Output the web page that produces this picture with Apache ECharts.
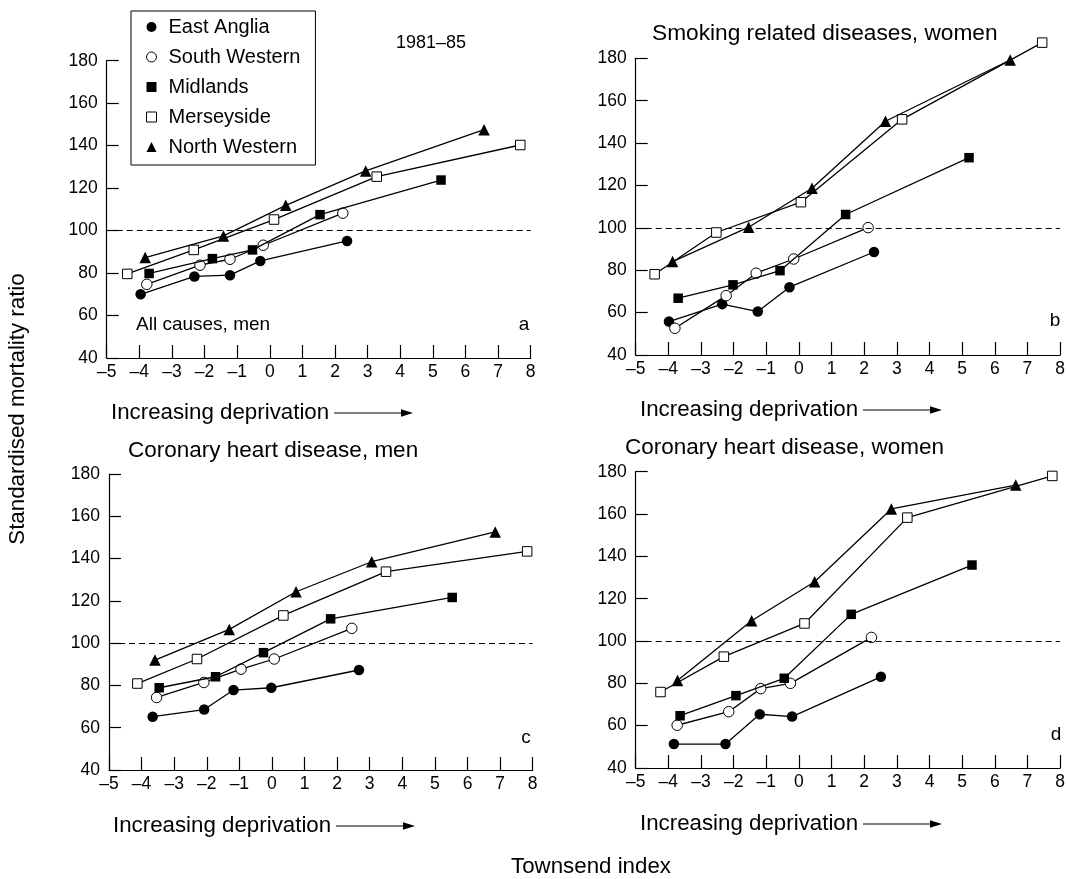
<!DOCTYPE html>
<html>
<head>
<meta charset="utf-8">
<script src="https://cdn.jsdelivr.net/npm/echarts@6/dist/echarts.min.js"></script>
<style>
html,body{margin:0;padding:0;background:#fff;}
#chart{width:1068px;height:879px;}
</style>
</head>
<body>
<div id="chart"></div>
<script>
// ---------- DATA (Townsend index, SMR) ----------
const regions = ['East Anglia', 'South Western', 'Midlands', 'Merseyside', 'North Western'];
const xTicks = [-5, -4, -3, -2, -1, 0, 1, 2, 3, 4, 5, 6, 7, 8];
const yTicks = [40, 60, 80, 100, 120, 140, 160, 180];
const referenceSMR = 100;

// Panel a: All causes, men
const a_eastAnglia   = [[-3.96, 70.0], [-2.31, 78.4], [-1.22, 79.0], [-0.29, 85.7], [2.37, 95.1]];
const a_southWestern = [[-3.77, 74.7], [-2.14, 83.7], [-1.22, 86.5], [-0.20, 93.1], [2.24, 108.2]];
const a_midlands     = [[-3.70, 79.8], [-1.76, 86.8], [-0.53, 90.9], [1.54, 107.5], [5.25, 123.8]];
const a_merseyside   = [[-4.37, 79.6], [-2.33, 90.9], [0.13, 105.2], [3.28, 125.4], [7.68, 140.3]];
const a_northWestern = [[-3.82, 87.3], [-1.42, 97.5], [0.49, 111.9], [2.94, 128.1], [6.57, 147.5]];

// Panel b: Smoking related diseases, women
const b_eastAnglia   = [[-3.98, 55.8], [-2.35, 64.0], [-1.26, 60.5], [-0.29, 72.0], [2.30, 88.6]];
const b_southWestern = [[-3.80, 52.6], [-2.23, 68.0], [-1.31, 78.6], [-0.16, 85.3], [2.12, 100.1]];
const b_midlands     = [[-3.70, 66.8], [-2.02, 73.1], [-0.58, 79.8], [1.43, 106.3], [5.21, 133.1]];
const b_merseyside   = [[-4.42, 78.1], [-2.53, 97.8], [0.06, 112.1], [3.16, 151.2], [7.45, 187.4]];
const b_northWestern = [[-3.87, 84.1], [-1.54, 100.3], [0.40, 118.7], [2.65, 150.3], [6.47, 179.2]];

// Panel c: Coronary heart disease, men
const c_eastAnglia   = [[-3.66, 65.2], [-2.08, 68.6], [-1.18, 77.8], [-0.02, 78.9], [2.67, 87.3]];
const c_southWestern = [[-3.54, 74.3], [-2.09, 81.4], [-0.95, 87.7], [0.07, 92.5], [2.45, 107.0]];
const c_midlands     = [[-3.46, 78.9], [-1.73, 84.1], [-0.26, 95.5], [1.80, 111.5], [5.53, 121.6]];
const c_merseyside   = [[-4.13, 80.9], [-2.30, 92.5], [0.35, 113.1], [3.50, 133.8], [7.83, 143.4]];
const c_northWestern = [[-3.59, 92.0], [-1.31, 106.5], [0.74, 124.3], [3.06, 138.5], [6.85, 152.6]];

// Panel d: Coronary heart disease, women
const d_eastAnglia   = [[-3.83, 51.3], [-2.25, 51.3], [-1.20, 65.4], [-0.21, 64.3], [2.51, 83.1]];
const d_southWestern = [[-3.73, 60.2], [-2.15, 66.6], [-1.17, 77.5], [-0.26, 80.0], [2.22, 101.7]];
const d_midlands     = [[-3.64, 64.7], [-1.93, 74.2], [-0.45, 82.4], [1.60, 112.6], [5.30, 135.9]];
const d_merseyside   = [[-4.24, 75.9], [-2.30, 92.6], [0.17, 108.3], [3.32, 158.3], [7.76, 178.0]];
const d_northWestern = [[-3.72, 81.3], [-1.45, 109.6], [0.48, 128.0], [2.83, 162.4], [6.64, 173.7]];

const panelTitles = ['', 'Smoking related diseases, women', 'Coronary heart disease, men', 'Coronary heart disease, women'];
const panelLetters = ['a', 'b', 'c', 'd'];

// ---------- STYLE ----------
const FONT = '"Liberation Sans", Arial, Helvetica, sans-serif';
const markerStyles = {
  'East Anglia':   { symbol: 'circle',   size: 10.5, fill: '#000' },
  'South Western': { symbol: 'circle',   size: 10.5, fill: '#fff' },
  'Midlands':      { symbol: 'rect',     size: 9.5,  fill: '#000' },
  'Merseyside':    { symbol: 'rect',     size: 9.5,  fill: '#fff' },
  'North Western': { symbol: 'triangle', size: 11.5, fill: '#000' }
};

const panels = [
  [a_eastAnglia, a_southWestern, a_midlands, a_merseyside, a_northWestern],
  [b_eastAnglia, b_southWestern, b_midlands, b_merseyside, b_northWestern],
  [c_eastAnglia, c_southWestern, c_midlands, c_merseyside, c_northWestern],
  [d_eastAnglia, d_southWestern, d_midlands, d_merseyside, d_northWestern]
];

const grids = [
  { left: 106.7, top: 60.7, width: 424, height: 297.3 },
  { left: 635.7, top: 58.3, width: 426.5, height: 296.7 },
  { left: 109, top: 474, width: 423.7, height: 296 },
  { left: 635.7, top: 471.7, width: 427.6, height: 296.3 }
];

const axisLineStyle = { color: '#000', width: 1.2 };
const xAxes = grids.map((g, i) => ({
  type: 'value', gridIndex: i,
  min: xTicks[0], max: xTicks[xTicks.length - 1], interval: 1,
  axisLine: { show: true, onZero: false, lineStyle: axisLineStyle },
  axisTick: { show: true, inside: true, length: 13, lineStyle: axisLineStyle },
  axisLabel: { margin: 5, fontSize: 17.5, fontFamily: FONT, color: '#000',
    formatter: v => String(v).replace('-', '\u2013') },
  splitLine: { show: false }
}));
const yAxes = grids.map((g, i) => ({
  type: 'value', gridIndex: i,
  min: yTicks[0], max: yTicks[yTicks.length - 1], interval: 20,
  axisLine: { show: true, onZero: false, lineStyle: axisLineStyle },
  axisTick: { show: true, inside: true, length: 12, lineStyle: axisLineStyle },
  axisLabel: { margin: 9, fontSize: 17.5, fontFamily: FONT, color: '#000' },
  splitLine: { show: false }
}));

const series = [];
panels.forEach((pdata, p) => {
  pdata.forEach((data, r) => {
    const name = regions[r];
    const ms = markerStyles[name];
    const s = {
      type: 'line', name, xAxisIndex: p, yAxisIndex: p,
      data, clip: false,
      symbol: ms.symbol, symbolSize: ms.size, showAllSymbol: true,
      lineStyle: { color: '#000', width: 1.3 },
      itemStyle: { color: ms.fill, borderColor: '#000', borderWidth: ms.fill === '#fff' ? 1 : 0, opacity: 1 },
      emphasis: { disabled: true },
      z: 3 + r
    };
    if (r === 0) {
      s.markLine = {
        silent: true, symbol: ['none', 'none'], animation: false,
        label: { show: false },
        lineStyle: { type: [6, 4], color: '#000', width: 1 },
        data: [{ yAxis: referenceSMR }]
      };
    }
    series.push(s);
  });
});

// ---------- GRAPHIC TEXT ----------
function txt(text, x, y, size, align, extra) {
  return Object.assign({
    type: 'text', x, y, silent: true,
    style: { text, fontSize: size, fontFamily: FONT, fill: '#000', align: align || 'left', verticalAlign: 'middle' }
  }, extra || {});
}
function arrowGroup(x1, x2, y) {
  return [
    { type: 'line', silent: true, shape: { x1, y1: y, x2: x2 - 10, y2: y }, style: { stroke: '#000', lineWidth: 1.2 } },
    { type: 'polygon', silent: true, shape: { points: [[x2, y], [x2 - 12, y - 3.8], [x2 - 12, y + 3.8]] }, style: { fill: '#000' } }
  ];
}
const graphics = [
  txt('1981\u201385', 396, 43, 18),
  txt('All causes, men', 136, 325, 19),
  txt(panelLetters[0], 524, 325, 19, 'center'),
  txt(panelLetters[1], 1055, 321, 19, 'center'),
  txt(panelLetters[2], 526, 738, 19, 'center'),
  txt(panelLetters[3], 1056, 735, 19, 'center'),
  txt(panelTitles[1], 652, 34, 22.7),
  txt(panelTitles[2], 128, 451, 22.5),
  txt(panelTitles[3], 625, 448, 22.5),
  txt('Increasing deprivation', 111, 413, 22.3),
  txt('Increasing deprivation', 640, 410, 22.3),
  txt('Increasing deprivation', 113, 826, 22.3),
  txt('Increasing deprivation', 640, 824, 22.3),
  txt('Townsend index', 591, 867, 22.3, 'center'),
  txt('Standardised mortality ratio', 18, 409, 22.3, 'center', { rotation: Math.PI / 2 })
].concat(arrowGroup(334, 413, 413))
 .concat(arrowGroup(863, 942, 410))
 .concat(arrowGroup(336, 415, 826))
 .concat(arrowGroup(863, 942, 824));

const legendIcons = {
  'East Anglia':   { icon: 'circle',   itemStyle: { color: '#000', borderWidth: 0 } },
  'South Western': { icon: 'circle',   itemStyle: { color: '#fff', borderColor: '#000', borderWidth: 1 } },
  'Midlands':      { icon: 'rect',     itemStyle: { color: '#000', borderWidth: 0 } },
  'Merseyside':    { icon: 'rect',     itemStyle: { color: '#fff', borderColor: '#000', borderWidth: 1 } },
  'North Western': { icon: 'triangle', itemStyle: { color: '#000', borderWidth: 0 } }
};

const option = {
  animation: false,
  backgroundColor: '#fff',
  grid: grids,
  xAxis: xAxes,
  yAxis: yAxes,
  legend: {
    orient: 'vertical', left: 131, top: 11,
    padding: [6, 15, 8, 15],
    itemWidth: 10, itemHeight: 10, itemGap: 10,
    borderColor: '#000', borderWidth: 1, backgroundColor: '#fff',
    selectedMode: false,
    textStyle: { fontSize: 20, fontFamily: FONT, color: '#000', lineHeight: 20, padding: [0, 0, 0, 7] },
    data: regions.map(n => Object.assign({ name: n }, legendIcons[n]))
  },
  series,
  graphic: graphics
};

const chart = echarts.init(document.getElementById('chart'), null, { renderer: 'canvas' });
chart.setOption(option);
</script>
</body>
</html>
